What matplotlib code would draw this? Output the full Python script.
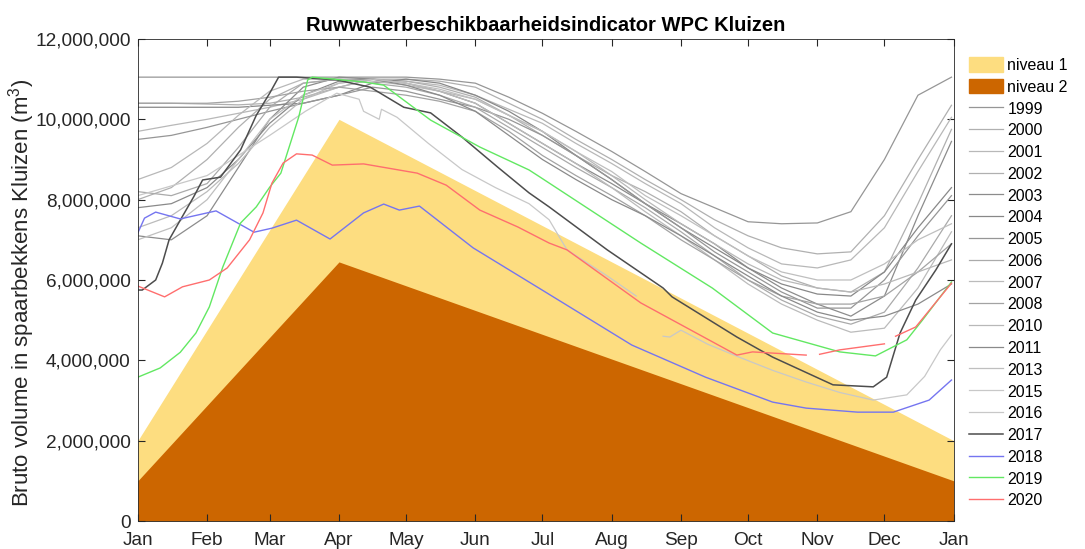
import numpy as np
import matplotlib.pyplot as plt
from matplotlib.patches import Patch
from matplotlib.lines import Line2D
from matplotlib.ticker import FuncFormatter

plt.rcParams['font.family'] = ['Liberation Sans', 'DejaVu Sans']

# day of year (0 = 1 Jan), values in million m3
month_days = [0, 31, 59, 90, 120, 151, 181, 212, 243, 273, 304, 334, 365]
month_labels = ['Jan', 'Feb', 'Mar', 'Apr', 'May', 'Jun', 'Jul', 'Aug', 'Sep', 'Oct', 'Nov', 'Dec', 'Jan']

lvl_days = [0, 90, 365]
niveau1 = [2.0, 10.0, 2.0]
niveau2 = [1.0, 6.45, 1.0]

grid = [0, 15, 31, 45, 59, 74, 90, 105, 120, 135, 151, 166, 181, 196, 212, 227, 243, 258, 273, 288, 304, 319, 334, 349, 364]
v1999 = [11.05, 11.05, 11.05, 11.05, 11.05, 11.05, 11.05, 11.05, 11.05, 11.0, 10.9, 10.55, 10.15, 9.7, 9.2, 8.7, 8.15, 7.8, 7.45, 7.4, 7.42, 7.7, 9.0, 10.6, 11.05]
v2000 = [10.4, 10.4, 10.38, 10.36, 10.4, 10.55, 10.8, 11.0, 11.0, 10.95, 10.8, 10.4, 10.0, 9.5, 9.0, 8.5, 8.0, 7.5, 7.1, 6.8, 6.65, 6.7, 7.6, 9.0, 10.35]
v2001 = [9.7, 9.85, 10.0, 10.15, 10.3, 10.5, 10.8, 11.0, 10.95, 10.85, 10.6, 10.25, 9.9, 9.4, 8.9, 8.4, 7.9, 7.3, 6.8, 6.4, 6.3, 6.5, 7.3, 8.7, 10.05]
v2002 = [8.0, 8.3, 9.0, 9.8, 10.5, 10.9, 11.0, 11.0, 10.95, 10.8, 10.55, 10.1, 9.6, 9.1, 8.6, 8.2, 7.7, 7.1, 6.6, 6.1, 5.8, 5.7, 6.2, 7.9, 9.75]
v2003 = [7.1, 7.0, 7.6, 8.8, 10.0, 10.8, 11.05, 11.0, 10.9, 10.7, 10.4, 9.9, 9.4, 8.9, 8.4, 7.9, 7.4, 6.9, 6.3, 5.8, 5.4, 5.1, 5.6, 7.6, 9.45]
v2004 = [10.3, 10.3, 10.3, 10.3, 10.35, 10.4, 10.6, 10.9, 11.0, 10.9, 10.6, 10.2, 9.7, 9.1, 8.5, 7.9, 7.3, 6.8, 6.3, 5.9, 5.65, 5.6, 6.2, 7.3, 8.3]
v2005 = [9.5, 9.6, 9.8, 10.0, 10.2, 10.4, 10.6, 10.8, 10.7, 10.5, 10.3, 10.0, 9.6, 9.1, 8.5, 7.9, 7.3, 6.7, 6.2, 5.7, 5.3, 5.3, 6.0, 7.1, 8.1]
v2006 = [8.2, 8.1, 8.4, 9.3, 10.3, 10.9, 11.0, 10.9, 10.8, 10.6, 10.3, 9.8, 9.3, 8.8, 8.3, 7.8, 7.2, 6.6, 6.0, 5.5, 5.1, 4.9, 5.2, 6.3, 7.6]
v2007 = [7.3, 7.6, 8.2, 8.9, 9.8, 10.5, 10.9, 11.0, 10.9, 10.7, 10.4, 9.9, 9.4, 8.9, 8.3, 7.7, 7.1, 6.5, 5.9, 5.4, 5.0, 4.7, 4.8, 5.8, 7.2]
v2008 = [10.4, 10.4, 10.4, 10.45, 10.55, 10.7, 10.8, 10.7, 10.6, 10.45, 10.2, 9.7, 9.1, 8.6, 8.1, 7.6, 7.0, 6.5, 6.0, 5.6, 5.4, 5.4, 5.6, 6.2, 6.9]
v2010 = [8.5, 8.8, 9.4, 10.1, 10.7, 11.0, 11.0, 10.95, 10.85, 10.7, 10.5, 10.1, 9.7, 9.2, 8.6, 8.0, 7.4, 6.9, 6.4, 6.0, 5.8, 5.7, 5.9, 6.2, 6.5]
v2011 = [7.8, 7.9, 8.3, 9.0, 9.9, 10.6, 10.95, 11.0, 10.85, 10.6, 10.2, 9.6, 9.0, 8.5, 8.0, 7.6, 7.1, 6.6, 6.1, 5.6, 5.2, 5.0, 5.1, 5.4, 5.9]
v2013 = [7.0, 7.3, 8.0, 9.0, 10.0, 10.6, 10.9, 11.0, 10.9, 10.75, 10.5, 10.1, 9.7, 9.2, 8.7, 8.1, 7.6, 7.1, 6.6, 6.2, 6.0, 6.0, 6.4, 7.0, 7.4]

d2015 = [0, 31, 59, 75, 89, 99, 101, 108, 109, 116, 130, 145, 160, 175, 184, 192, 210, 223]
v2015 = [8.1, 8.6, 9.6, 10.2, 10.65, 10.5, 10.2, 10.0, 10.25, 10.05, 9.4, 8.75, 8.3, 7.9, 7.5, 6.75, 6.1, 5.6]
d2016 = [235, 238, 243, 255, 269, 284, 299, 314, 329, 344, 352, 359, 364]
v2016 = [4.6, 4.58, 4.75, 4.4, 4.08, 3.75, 3.46, 3.2, 3.01, 3.14, 3.6, 4.26, 4.63]

d2017 = [0, 2, 8, 11, 14, 19, 25, 29, 37, 46, 53, 59, 63, 71, 89, 104, 119, 131, 145, 161, 175, 184, 210, 235, 239, 268, 284, 311, 329, 335, 341, 348, 357, 364]
v2017 = [5.75, 5.75, 6.0, 6.42, 7.0, 7.49, 8.07, 8.49, 8.56, 9.24, 10.1, 10.65, 11.05, 11.05, 10.98, 10.8, 10.3, 10.16, 9.56, 8.81, 8.17, 7.82, 6.75, 5.8, 5.58, 4.58, 4.08, 3.39, 3.34, 3.58, 4.68, 5.5, 6.25, 6.9]

d2018 = [0, 3, 8, 19, 35, 52, 60, 71, 86, 101, 110, 117, 126, 150, 180, 221, 254, 284, 299, 322, 338, 354, 364]
v2018 = [7.17, 7.54, 7.69, 7.52, 7.72, 7.19, 7.29, 7.49, 7.02, 7.67, 7.89, 7.74, 7.84, 6.8, 5.78, 4.38, 3.58, 2.96, 2.81, 2.71, 2.71, 3.01, 3.51]

d2019 = [0, 10, 19, 26, 32, 38, 46, 53, 59, 64, 72, 76, 78, 101, 110, 131, 153, 175, 180, 225, 257, 284, 314, 330, 344, 351, 364]
v2019 = [3.58, 3.81, 4.2, 4.68, 5.33, 6.32, 7.42, 7.82, 8.31, 8.66, 10.06, 10.98, 11.05, 10.93, 10.85, 9.98, 9.31, 8.74, 8.56, 6.92, 5.8, 4.68, 4.21, 4.11, 4.51, 5.0, 5.95]

d2020 = [0, 12, 20, 32, 40, 50, 56, 60, 65, 71, 78, 87, 101, 125, 138, 153, 170, 184, 192, 225, 268, 275, 299, 302, 305, 314, 334, 336, 339, 348, 364]
v2020 = [5.85, 5.58, 5.83, 6.0, 6.3, 7.0, 7.67, 8.41, 8.91, 9.14, 9.11, 8.86, 8.89, 8.66, 8.36, 7.74, 7.32, 6.92, 6.75, 5.43, 4.13, 4.21, 4.13, np.nan, 4.15, 4.26, 4.41, np.nan, 4.6, 4.83, 5.92]

grey_series = [
    ('1999', grid, v1999, '#969696'), ('2000', grid, v2000, '#b0b0b0'),
    ('2001', grid, v2001, '#b8b8b8'), ('2002', grid, v2002, '#b0b0b0'),
    ('2003', grid, v2003, '#8c8c8c'), ('2004', grid, v2004, '#888888'),
    ('2005', grid, v2005, '#969696'), ('2006', grid, v2006, '#aaaaaa'),
    ('2007', grid, v2007, '#bbbbbb'), ('2008', grid, v2008, '#a3a3a3'),
    ('2010', grid, v2010, '#b8b8b8'), ('2011', grid, v2011, '#8a8a8a'),
    ('2013', grid, v2013, '#bfbfbf'), ('2015', d2015, v2015, '#c8c8c8'),
    ('2016', d2016, v2016, '#c8c8c8'),
]
color_series = [
    ('2017', d2017, v2017, '#4d4d4d', 1.1), ('2018', d2018, v2018, '#7575f0', 1.0),
    ('2019', d2019, v2019, '#62e862', 1.0), ('2020', d2020, v2020, '#ff6e6e', 1.0),
]

fig = plt.figure(figsize=(10.85, 5.49), dpi=100)
ax = fig.add_axes([0.127, 0.051, 0.752, 0.878])

col1 = '#fddd80'
col2 = '#cc6600'
ax.fill_between(lvl_days, np.array(niveau1) * 1e6, 0, color=col1, lw=0)
ax.fill_between(lvl_days, np.array(niveau2) * 1e6, 0, color=col2, lw=0)

handles = [Patch(color=col1, label='niveau 1'), Patch(color=col2, label='niveau 2')]
for name, d, v, c in grey_series:
    ax.plot(d, np.array(v) * 1e6, color=c, lw=0.9)
    handles.append(Line2D([], [], color=c, lw=0.9, label=name))
for name, d, v, c, w in color_series:
    ax.plot(d, np.array(v) * 1e6, color=c, lw=w)
    handles.append(Line2D([], [], color=c, lw=w, label=name))

ax.set_xlim(0, 365)
ax.set_ylim(0, 12e6)
ax.set_xticks(month_days)
ax.set_xticklabels(month_labels)
ax.set_yticks(np.arange(0, 12.1e6, 2e6))
ax.yaxis.set_major_formatter(FuncFormatter(lambda v, p: f'{v:,.0f}'))
ax.tick_params(direction='in', top=True, right=True, labelsize=13.7, colors='#262626', length=5)
ax.tick_params(axis='x', pad=8)
ax.tick_params(axis='y', pad=5)
for s in ax.spines.values():
    s.set_color('#262626')
    s.set_linewidth(0.6)

ax.set_title('Ruwwaterbeschikbaarheidsindicator WPC Kluizen', fontsize=14.5, fontweight='bold', pad=6)
ax.set_ylabel(r'Bruto volume in spaarbekkens Kluizen (m$^{\mathregular{3}}$)', fontsize=16, color='#262626')
ax.yaxis.set_label_coords(-0.123, 0.473)

ax.legend(handles=handles, loc='upper left', bbox_to_anchor=(1.005, 0.985), frameon=False,
          fontsize=11.5, handlelength=2.15, handleheight=1.0, handletextpad=0.25, labelspacing=0.385,
          borderaxespad=0.3)

plt.savefig('out.png', dpi=100)
